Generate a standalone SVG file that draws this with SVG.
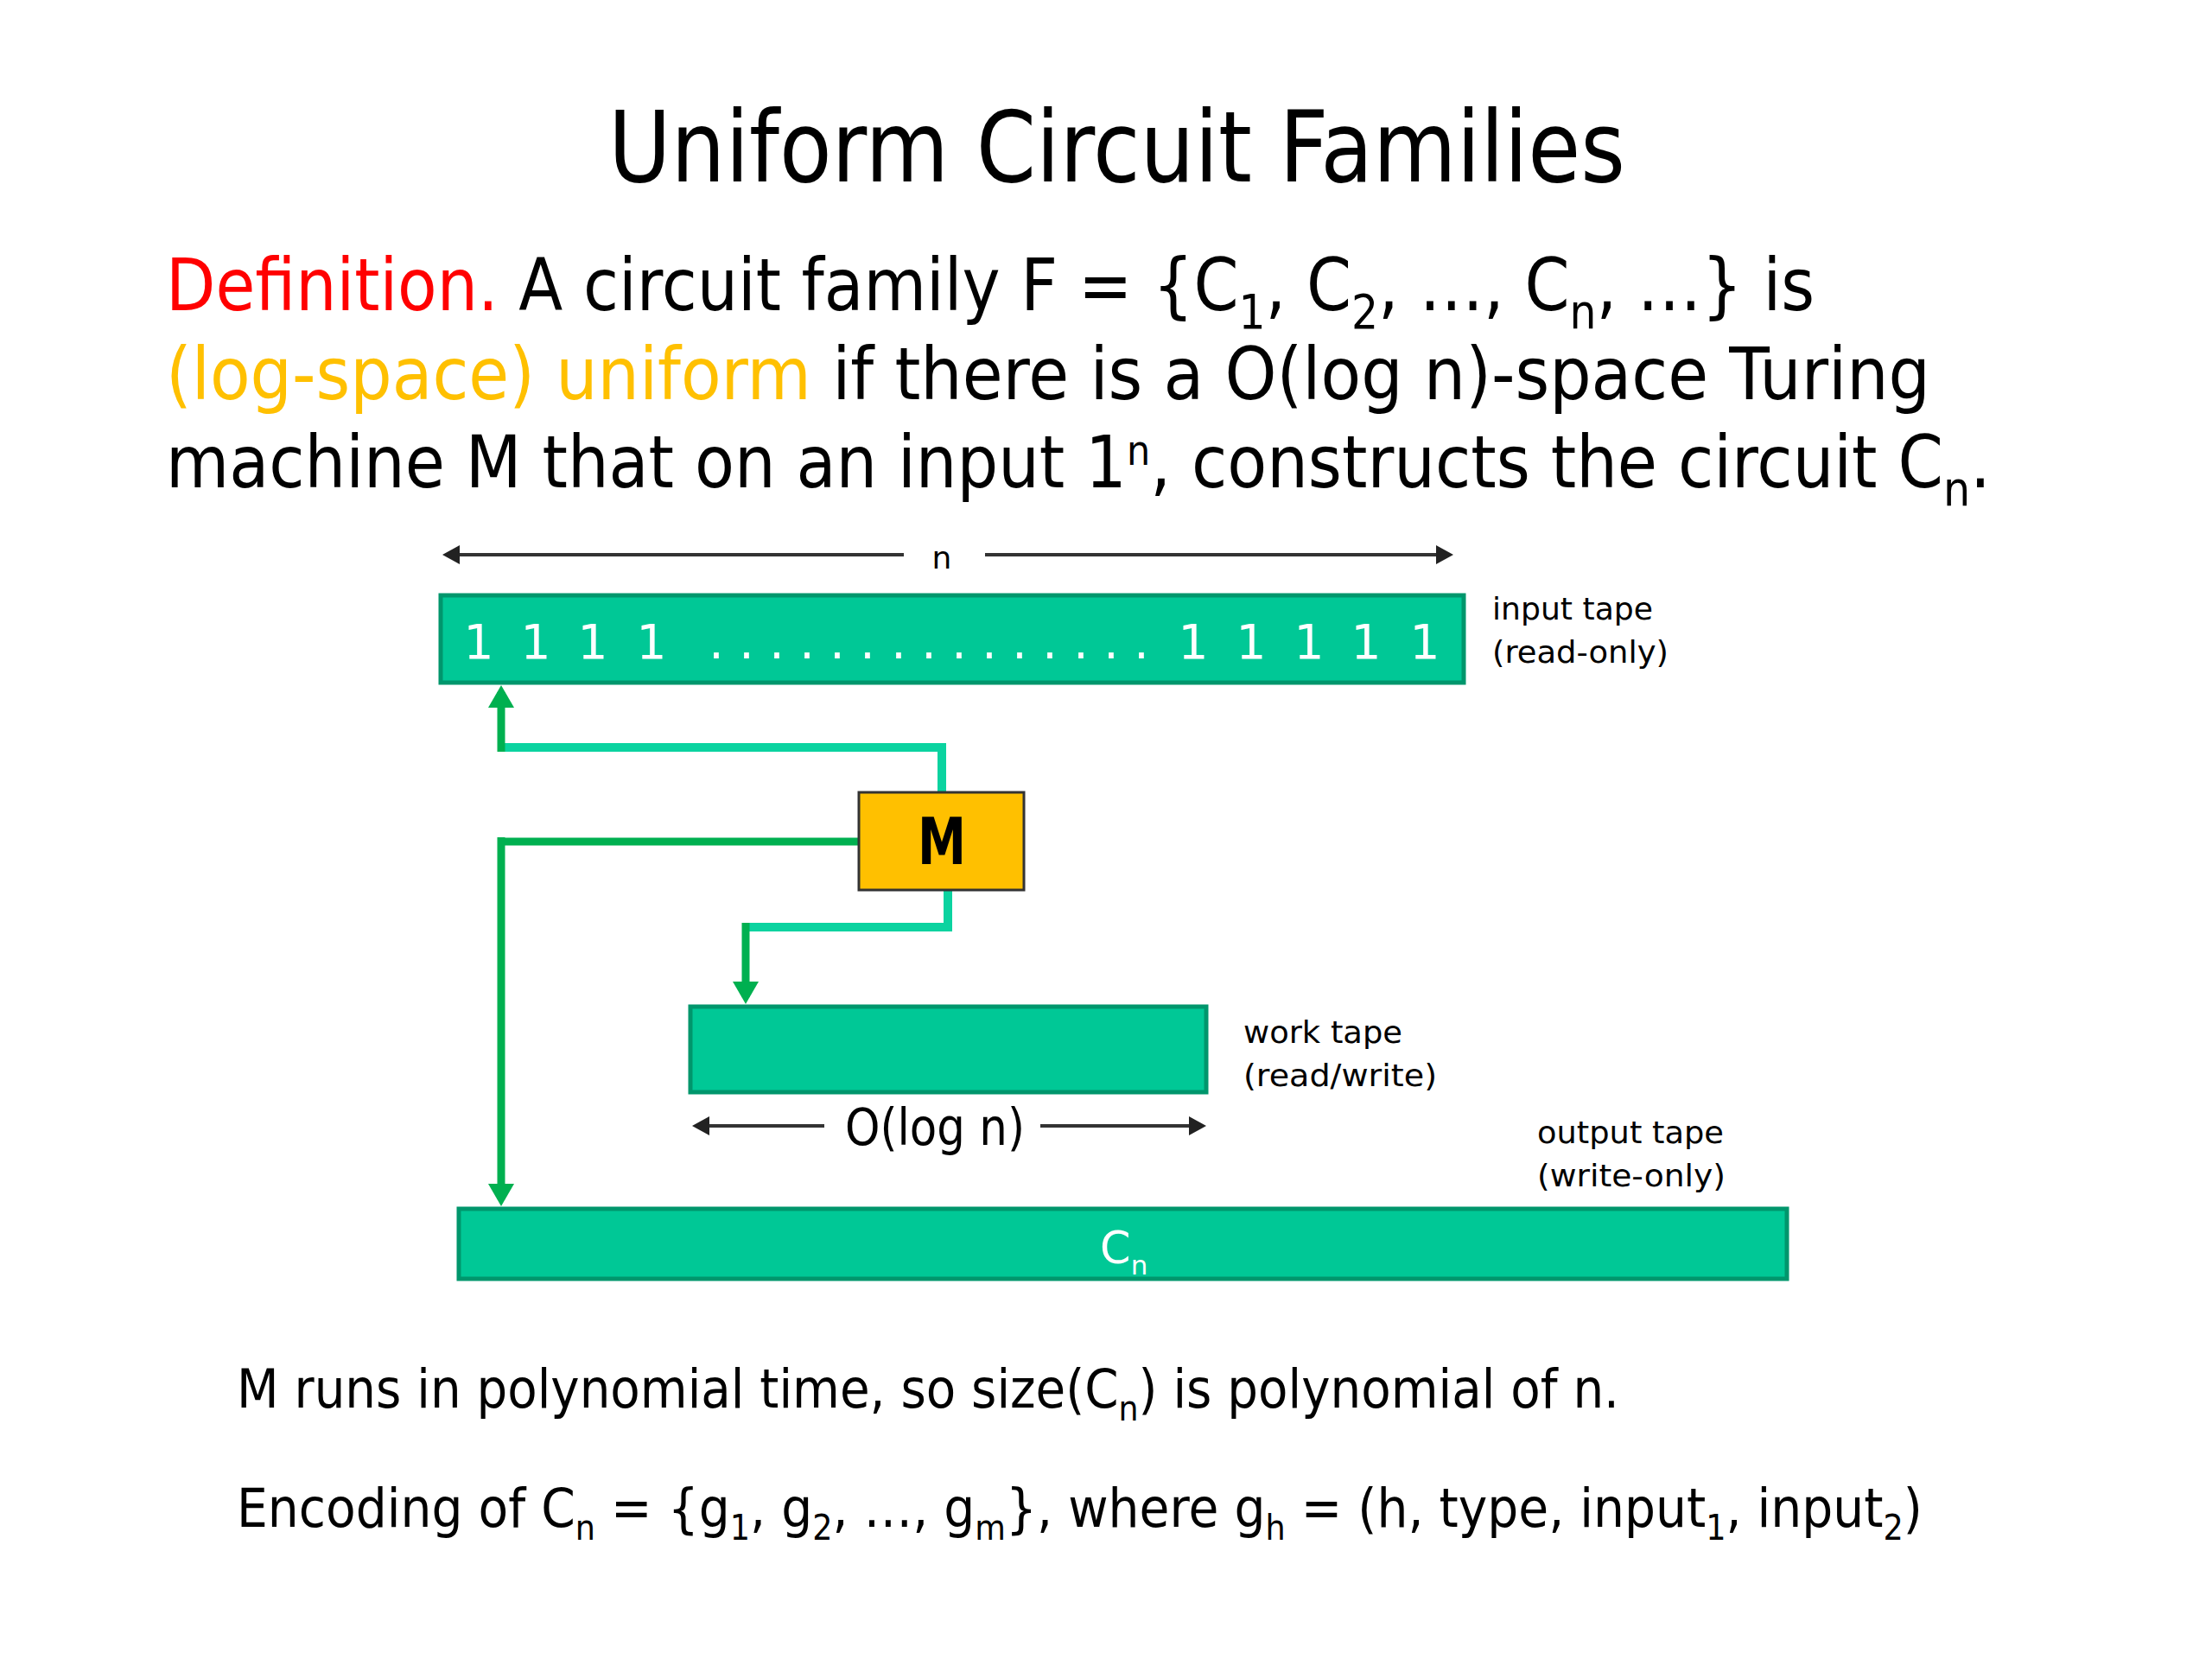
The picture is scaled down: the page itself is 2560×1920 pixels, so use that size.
<svg xmlns="http://www.w3.org/2000/svg" width="2560" height="1920" viewBox="0 0 2560 1920">
<style>
text{font-family:"DejaVu Sans",Verdana,sans-serif;fill:#000}
.title{font-size:114px}
.def{font-size:84px}
.dsub{font-size:55px}
.body{font-size:62px}
.bsub{font-size:40px}
.lbl{font-size:36px}
.tape{fill:#00c896;stroke:#00966c;stroke-width:5}
.ones{font-size:55px;fill:#fff}
.teal{fill:none;stroke:#0bd3a0;stroke-width:10;stroke-linejoin:miter}
.grn{fill:none;stroke:#00b050;stroke-width:9}
.dim{fill:none;stroke:#333;stroke-width:4}
</style>
<defs>
<marker id="ab" viewBox="0 0 20 22" markerUnits="userSpaceOnUse" markerWidth="20" markerHeight="22" refX="14" refY="11" orient="auto-start-reverse"><path d="M0,0 L20,11 L0,22 z" fill="#222"/></marker>
<marker id="ag" viewBox="0 0 26 30" markerUnits="userSpaceOnUse" markerWidth="26" markerHeight="30" refX="18" refY="15" orient="auto"><path d="M0,0 L26,15 L0,30 z" fill="#00b050"/></marker>
</defs>
<rect width="2560" height="1920" fill="#fff"/>

<g id="title"><text class="title" x="704" y="210" textLength="1177" lengthAdjust="spacingAndGlyphs">Uniform Circuit Families</text></g>

<g id="definition">
<text class="def" x="192" y="359" textLength="1908" lengthAdjust="spacingAndGlyphs"><tspan fill="#ff0000">Definition.</tspan> A circuit family F = {C<tspan class="dsub" dy="21">1</tspan><tspan dy="-21">, C</tspan><tspan class="dsub" dy="21">2</tspan><tspan dy="-21">, …, C</tspan><tspan class="dsub" dy="21">n</tspan><tspan dy="-21">, …} is</tspan></text>
<text class="def" x="192" y="462" textLength="2042" lengthAdjust="spacingAndGlyphs"><tspan fill="#ffc000">(log-space) uniform</tspan> if there is a O(log n)-space Turing</text>
<text class="def" x="192" y="564" textLength="2112" lengthAdjust="spacingAndGlyphs">machine M that on an input 1<tspan font-size="48" dy="-26">n</tspan><tspan dy="26">, constructs the circuit C</tspan><tspan class="dsub" dy="21">n</tspan><tspan dy="-21">.</tspan></text>
</g>

<g id="connectors">
<path class="dim" d="M1046,642 H518" marker-end="url(#ab)"/>
<path class="dim" d="M1140,642 H1676" marker-end="url(#ab)"/>
<path class="dim" d="M954,1303 H807" marker-end="url(#ab)"/>
<path class="dim" d="M1204,1303 H1390" marker-end="url(#ab)"/>
<path class="teal" d="M1090,917 V865 H576"/>
<path class="grn" d="M580,870 V801" marker-end="url(#ag)"/>
<path class="grn" stroke-width="11" d="M994,974 H576"/>
<path class="grn" stroke-width="8" d="M580,969 V1388" marker-end="url(#ag)"/>
<path class="teal" d="M1097,1030 V1073 H859"/>
<path class="grn" stroke-width="8" d="M863,1068 V1154" marker-end="url(#ag)"/>
</g>

<g id="n-label"><text class="lbl" x="1090" y="658" text-anchor="middle" font-size="33">n</text></g>

<g id="input-tape">
<rect class="tape" x="510" y="689" width="1184" height="101"/>
<text class="ones" y="762" text-anchor="middle" x="554 620 686 754 829 864 899 934 969 1004 1040 1075 1110 1145 1180 1215 1251 1286 1321 1381 1448 1515 1581 1649">1111...............11111</text>
<text class="lbl" x="1727" y="717" textLength="186" lengthAdjust="spacingAndGlyphs">input tape</text>
<text class="lbl" x="1727" y="767" textLength="204" lengthAdjust="spacingAndGlyphs">(read-only)</text>
</g>

<g id="machine">
<rect x="994" y="917" width="191" height="113" fill="#ffc000" stroke="#333" stroke-width="3"/>
<text x="1062" y="1000" font-size="74" font-weight="bold" textLength="56" lengthAdjust="spacingAndGlyphs">M</text>
</g>

<g id="work-tape">
<rect class="tape" x="799" y="1165" width="597" height="99"/>
<text class="lbl" x="1439" y="1207" textLength="184" lengthAdjust="spacingAndGlyphs">work tape</text>
<text class="lbl" x="1439" y="1257" textLength="224" lengthAdjust="spacingAndGlyphs">(read/write)</text>
<text x="978" y="1325" font-size="58" textLength="208" lengthAdjust="spacingAndGlyphs">O(log n)</text>
</g>

<g id="output-tape">
<rect class="tape" x="531" y="1399" width="1537" height="81"/>
<text x="1273" y="1462" font-size="51" style="fill:#fff">C<tspan font-size="31" dy="13">n</tspan></text>
<text class="lbl" x="1779" y="1323" textLength="216" lengthAdjust="spacingAndGlyphs">output tape</text>
<text class="lbl" x="1779" y="1373" textLength="218" lengthAdjust="spacingAndGlyphs">(write-only)</text>
</g>

<g id="notes">
<text class="body" x="274" y="1629" textLength="1600" lengthAdjust="spacingAndGlyphs">M runs in polynomial time, so size(C<tspan class="bsub" dy="15">n</tspan><tspan dy="-15">) is polynomial of n.</tspan></text>
<text class="body" x="274" y="1767" textLength="1951" lengthAdjust="spacingAndGlyphs">Encoding of C<tspan class="bsub" dy="15">n</tspan><tspan dy="-15"> = {g</tspan><tspan class="bsub" dy="15">1</tspan><tspan dy="-15">, g</tspan><tspan class="bsub" dy="15">2</tspan><tspan dy="-15">, …, g</tspan><tspan class="bsub" dy="15">m</tspan><tspan dy="-15">}, where g</tspan><tspan class="bsub" dy="15">h</tspan><tspan dy="-15"> = (h, type, input</tspan><tspan class="bsub" dy="15">1</tspan><tspan dy="-15">, input</tspan><tspan class="bsub" dy="15">2</tspan><tspan dy="-15">)</tspan></text>
</g>
</svg>
